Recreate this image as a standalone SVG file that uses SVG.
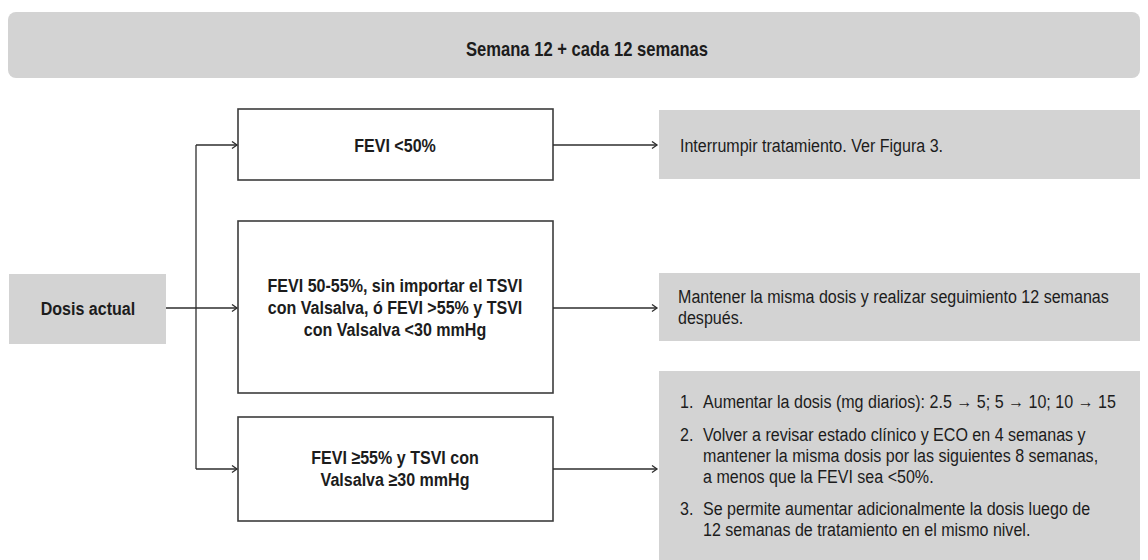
<svg xmlns="http://www.w3.org/2000/svg" width="1148" height="560" viewBox="0 0 1148 560">
<defs>
<style>
.t{font-family:"Liberation Sans",Arial,sans-serif;fill:#1c1c1c}
.b{font-weight:bold}
.c{text-anchor:middle}
.g{fill:#d3d3d3}
.box{fill:#ffffff;stroke:#3c3c3c;stroke-width:1.6}
.ln{fill:none;stroke:#2e2e2e;stroke-width:1.3}
</style>
<marker id="ah" markerWidth="8" markerHeight="10" refX="6" refY="4" orient="auto" markerUnits="userSpaceOnUse">
<path d="M1,0.5 L6,4 L1,7.5" fill="none" stroke="#2e2e2e" stroke-width="1.3"/>
</marker>
</defs>
<rect width="1148" height="560" fill="#ffffff"/>

<g id="header">
<rect class="g" x="8" y="12" width="1132" height="66" rx="8"/>
<text class="t b c" transform="scale(0.83 1)" x="707.2" y="56" font-size="20">Semana 12 + cada 12 semanas</text>
</g>

<g id="dosis">
<rect class="g" x="9" y="274" width="157" height="70"/>
<text class="t b c" transform="scale(0.845 1)" x="104.1" y="315" font-size="19">Dosis actual</text>
</g>

<g id="cond1">
<rect class="box" x="238" y="109" width="315" height="71"/>
<text class="t b c" transform="scale(0.845 1)" x="467.5" y="152" font-size="19">FEVI &lt;50%</text>
</g>

<g id="cond2">
<rect class="box" x="238" y="221" width="315" height="172"/>
<text class="t b c" transform="scale(0.845 1)" font-size="19"><tspan x="467.5" y="292">FEVI 50-55%, sin importar el TSVI</tspan><tspan x="467.5" y="314">con Valsalva, ó FEVI &gt;55% y TSVI</tspan><tspan x="467.5" y="336">con Valsalva &lt;30 mmHg</tspan></text>
</g>

<g id="cond3">
<rect class="box" x="238" y="417" width="315" height="104"/>
<text class="t b c" transform="scale(0.845 1)" font-size="19"><tspan x="467.5" y="464">FEVI ≥55% y TSVI con</tspan><tspan x="467.5" y="486">Valsalva ≥30 mmHg</tspan></text>
</g>

<g id="res1">
<rect class="g" x="659" y="110" width="481" height="69"/>
<text class="t" transform="scale(0.845 1)" x="804.7" y="152" font-size="19">Interrumpir tratamiento. Ver Figura 3.</text>
</g>

<g id="res2">
<rect class="g" x="659" y="273" width="481" height="68"/>
<text class="t" transform="scale(0.845 1)" font-size="19"><tspan x="802.4" y="303">Mantener la misma dosis y realizar seguimiento 12 semanas</tspan><tspan x="802.4" y="324">después.</tspan></text>
</g>

<g id="res3">
<rect class="g" x="659" y="371" width="481" height="189"/>
<text class="t" transform="scale(0.845 1)" font-size="19">
<tspan x="804.7" y="408">1.</tspan><tspan x="832" y="408">Aumentar la dosis (mg diarios): 2.5 → 5; 5 → 10; 10 → 15</tspan>
<tspan x="804.7" y="441">2.</tspan><tspan x="832" y="441">Volver a revisar estado clínico y ECO en 4 semanas y</tspan>
<tspan x="832" y="462">mantener la misma dosis por las siguientes 8 semanas,</tspan>
<tspan x="832" y="483">a menos que la FEVI sea &lt;50%.</tspan>
<tspan x="804.7" y="515">3.</tspan><tspan x="832" y="515">Se permite aumentar adicionalmente la dosis luego de</tspan>
<tspan x="832" y="536">12 semanas de tratamiento en el mismo nivel.</tspan>
</text>
</g>

<g id="connectors">
<path class="ln" d="M166,308 L237,308" marker-end="url(#ah)"/>
<path class="ln" d="M196,145 L196,469"/>
<path class="ln" d="M196,145 L237,145" marker-end="url(#ah)"/>
<path class="ln" d="M196,469 L237,469" marker-end="url(#ah)"/>
<path class="ln" d="M553,145 L657,145" marker-end="url(#ah)"/>
<path class="ln" d="M553,308 L657,308" marker-end="url(#ah)"/>
<path class="ln" d="M553,469 L657,469" marker-end="url(#ah)"/>
</g>
</svg>
